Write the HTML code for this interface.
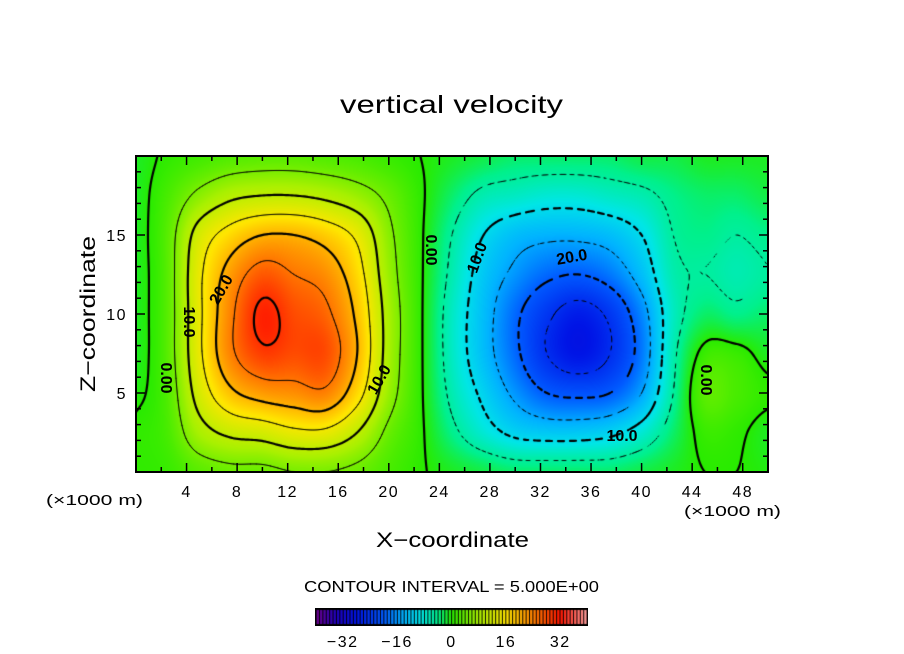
<!DOCTYPE html>
<html><head><meta charset="utf-8">
<style>
body{margin:0;background:#fff;}
#wrap{position:relative;width:904px;height:654px;overflow:hidden;background:#fff;font-family:"Liberation Sans",sans-serif;}
canvas{position:absolute;}
svg{position:absolute;left:0;top:0;}
</style></head>
<body>
<div id="wrap">
<canvas id="field" width="632" height="316" style="left:136px;top:156px"></canvas>
<canvas id="cb" width="273" height="18" style="left:315px;top:608px"></canvas>
<svg id="ov" width="904" height="654">
<text x="340" y="113" textLength="223" lengthAdjust="spacingAndGlyphs" font-size="25">vertical velocity</text>
<text x="376" y="547" textLength="153" lengthAdjust="spacingAndGlyphs" font-size="21">X−coordinate</text>
<text transform="translate(95,392) rotate(-90)" textLength="156" lengthAdjust="spacingAndGlyphs" font-size="21">Z−coordinate</text>
<text x="46" y="505" textLength="97" lengthAdjust="spacingAndGlyphs" font-size="15">(×1000 m)</text>
<text x="684" y="516" textLength="97" lengthAdjust="spacingAndGlyphs" font-size="15">(×1000 m)</text>
<text x="304" y="592" textLength="295" lengthAdjust="spacingAndGlyphs" font-size="16">CONTOUR INTERVAL = 5.000E+00</text>
<g id="ticks"></g>
<g id="clabels" font-size="16" font-weight="bold"></g>
</svg>
</div>
<script>
// grid columns x (km) and rows z (km), top row z=20
const xs=[0,2.5,5,7.5,10,12.5,15,17.5,20,22.5,25,27.5,30,32.5,35,37.5,40,42.5,45,47.5,50];
const zs=[20,17.5,15,12.5,10,7.5,5,2.5,0];
const w20 =[-1,0.5,1.5,2.5,3,3,2.5,2,1,0,   -1,-2,-3,-3,-3,-3,-2,-2,-1,-1,-1];
const w175=[-1,2,6,9,10,10,9,7,4,0.5,     -3,-6,-7,-8,-8,-7,-6,-4,-3,-3,-2];
const w15 =[-1,3,12,17,20,20,18,14,6,0.5, -5,-10,-13,-14,-14,-13,-10,-5,-4,-5,-4];
const w125=[-1,3,14,22,27,25,23,17,7,0.5, -6,-12,-16,-19,-20,-18,-13,-6,-5,-6,-5];
const w10 =[-1,3,14,24,31,28,26,19,8,0.5, -7,-13,-19,-24,-27,-24,-17,-7,-3,-4,-3];
const w75 =[-1,3,14,24,29,28,28,20,8,0.5, -7,-13,-19,-25,-28,-25,-18,-6,1,1,-1];
const w5  =[-0.5,2.5,12,19,22,23,24,17,7,0.5,-6,-11,-16,-20,-21,-20,-15,-5,3,2,0.5];
const w25 =[0.5,2,8,11,12,14,14,10,4,0.5,  -4,-8,-11,-12,-12,-11,-8,-3,1,0.5,-1];
const w0  =[0.5,1,3,4,4,5,5,4,2,0.3,       -1,-2,-3,-3,-3,-3,-2,-1,0,0,-0.5];
const rows=[w20,w175,w15,w125,w10,w75,w5,w25,w0];
const levels=[-30,-25,-20,-15,-10,-5,0,5,10,15,20,25,30];
const cbTicks=[-32,-16,0,16,32];
const xTicks=[4,8,12,16,20,24,28,32,36,40,44,48];
const zTicks=[5,10,15];

const PX0=136,PY0=156,PW=632,PH=316;
function sx(x){return PX0+x/50*PW;}
function sz(z){return PY0+(20-z)/20*PH;}
function cr(p0,p1,p2,p3,t){return p1+0.5*t*(p2-p0+t*(2*p0-5*p1+4*p2-p3+t*(3*(p1-p2)+p3-p0)));}
function G(i,j){i=Math.max(0,Math.min(zs.length-1,i));j=Math.max(0,Math.min(xs.length-1,j));return rows[i][j];}
function val(x,z){
  const fj=x/2.5, fi=(20-z)/2.5;
  const j=Math.min(Math.floor(fj),xs.length-2), i=Math.min(Math.floor(fi),zs.length-2);
  const tx=fj-j, tz=fi-i;
  const r=[];
  for(let k=-1;k<=2;k++) r.push(cr(G(i+k,j-1),G(i+k,j),G(i+k,j+1),G(i+k,j+2),tx));
  return cr(r[0],r[1],r[2],r[3],tz);
}
const stops=[[-40,110,0,140],[-34,30,0,190],[-28,0,20,230],[-20,0,90,255],[-14,0,180,255],[-9,0,230,230],[-4,0,240,140],[0,40,235,0],[8,170,240,0],[16,255,230,0],[24,255,130,0],[32,255,20,0],[40,255,160,160]];
function col(v){
  if(v<=stops[0][0])return stops[0].slice(1);
  for(let k=1;k<stops.length;k++){if(v<=stops[k][0]){const a=stops[k-1],b=stops[k],t=(v-a[0])/(b[0]-a[0]);return [a[1]+t*(b[1]-a[1]),a[2]+t*(b[2]-a[2]),a[3]+t*(b[3]-a[3])];}}
  return stops[stops.length-1].slice(1);
}
const fc=document.getElementById('field'),ctx=fc.getContext('2d');
const img=ctx.createImageData(PW,PH);
for(let py=0;py<PH;py++)for(let px=0;px<PW;px++){
  const v=val((px+0.5)/PW*50,20-(py+0.5)/PH*20);const c=col(v);const o=(py*PW+px)*4;
  img.data[o]=c[0];img.data[o+1]=c[1];img.data[o+2]=c[2];img.data[o+3]=255;}
ctx.putImageData(img,0,0);
// contours via marching squares
const S=2,NX=PW/S+1,NY=PH/S+1;const F=[];
for(let b=0;b<NY;b++){F.push([]);for(let a=0;a<NX;a++)F[b].push(val(a*S/PW*50,20-b*S/PH*20));}
ctx.lineCap='round';
levels.forEach(L=>{
  const thick=(L%10===0);ctx.lineWidth=thick?2.2:0.9;ctx.strokeStyle='#000';
  ctx.beginPath();
  for(let b=0;b<NY-1;b++)for(let a=0;a<NX-1;a++){
    const v=[F[b][a],F[b][a+1],F[b+1][a+1],F[b+1][a]];
    const P=[[a,b],[a+1,b],[a+1,b+1],[a,b+1]];const pts=[];
    for(let e=0;e<4;e++){const v1=v[e],v2=v[(e+1)%4];if((v1<L)!==(v2<L)){const t=(L-v1)/(v2-v1);const p1=P[e],p2=P[(e+1)%4];pts.push([(p1[0]+t*(p2[0]-p1[0]))*S,(p1[1]+t*(p2[1]-p1[1]))*S]);}}
    if(L<0){const per=thick?12:9;if(Math.floor((a*S+b*S*0.97)/ (per/2))%2===1)continue;}
    for(let k=0;k+1<pts.length;k+=2){ctx.moveTo(pts[k][0],pts[k][1]);ctx.lineTo(pts[k+1][0],pts[k+1][1]);}
  }
  ctx.stroke();
});
// colorbar
const cb=document.getElementById('cb'),c2=cb.getContext('2d');
c2.fillStyle='#000';c2.fillRect(0,0,273,18);
const bw=(273-2)/80;
for(let k=0;k<80;k++){const c=col(-40+k+0.5);c2.fillStyle='rgb('+c.map(Math.round).join(',')+')';c2.fillRect(1+k*bw+0.6,2,bw-1,14);}
// ticks and labels
const NS='http://www.w3.org/2000/svg';const tg=document.getElementById('ticks');
function el(t,at,txt){const e=document.createElementNS(NS,t);for(const k in at)e.setAttribute(k,at[k]);if(txt!==undefined)e.textContent=txt;return e;}
const frame=el('rect',{x:PX0,y:PY0,width:PW,height:PH,fill:'none',stroke:'#000','stroke-width':2});


tg.appendChild(frame);
for(let x=2;x<50;x+=2){const L=(x%4===0)?9:5;
  tg.appendChild(el('line',{x1:sx(x),x2:sx(x),y1:PY0+PH,y2:PY0+PH-L,stroke:'#000','stroke-width':1.5}));
  tg.appendChild(el('line',{x1:sx(x),x2:sx(x),y1:PY0,y2:PY0+L,stroke:'#000','stroke-width':1.5}));}
for(let z=1;z<20;z++){const L=(z%5===0)?9:5;
  tg.appendChild(el('line',{x1:PX0,x2:PX0+L,y1:sz(z),y2:sz(z),stroke:'#000','stroke-width':1.5}));
  tg.appendChild(el('line',{x1:PX0+PW,x2:PX0+PW-L,y1:sz(z),y2:sz(z),stroke:'#000','stroke-width':1.5}));}
xTicks.forEach(x=>{const t=el('text',{x:sx(x),y:497,'text-anchor':'middle','font-size':16,'letter-spacing':1.5},String(x));
  
  
  tg.appendChild(t);});
zTicks.forEach(z=>{const t=el('text',{x:127,y:sz(z)+6,'text-anchor':'end','font-size':16,'letter-spacing':1.5},String(z));
  
  
  tg.appendChild(t);});
cbTicks.forEach(v=>{const t=el('text',{x:451.5+v*3.4,y:647,'text-anchor':'middle','font-size':16,'letter-spacing':1.5},(v<0?'−'+(-v):String(v)));
  
  
  tg.appendChild(t);});
// contour labels
const cl=document.getElementById('clabels');
const labs=[[165,378,90,'0.00'],[188,322,90,'10.0'],[222,290,-60,'20.0'],[380,380,-60,'10.0'],[430,250,90,'0.00'],[478,258,-70,'10.0'],[572,258,-10,'20.0'],[622,437,0,'10.0'],[705,380,90,'0.00']];
labs.forEach(l=>{const t=el('text',{transform:'translate('+l[0]+','+l[1]+') rotate('+l[2]+')','text-anchor':'middle','dominant-baseline':'middle'},l[3]);
  
  
  cl.appendChild(t);});
</script>
</body></html>
